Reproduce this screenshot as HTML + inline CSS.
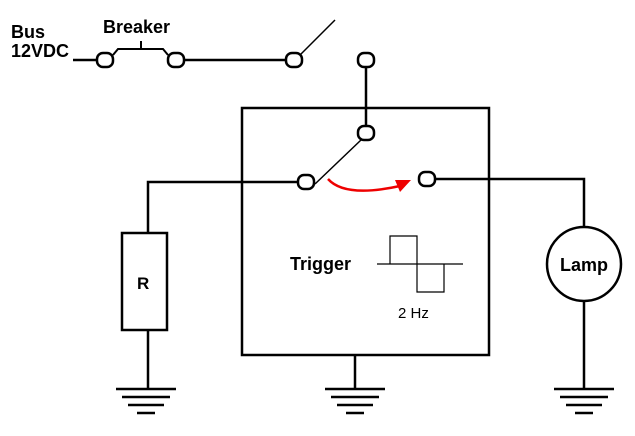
<!DOCTYPE html>
<html><head><style>body{margin:0;background:#fff}</style></head><body>
<svg width="635" height="431" xmlns="http://www.w3.org/2000/svg" font-family="Liberation Sans, sans-serif">
<g stroke="#000" stroke-width="2.5" fill="none">
<line x1="73" y1="60" x2="97" y2="60"/>
<line x1="184" y1="60" x2="286" y2="60"/>
<polyline points="113,55 118,49 163,49 168,55" stroke-width="2"/>
<line x1="141" y1="41" x2="141" y2="49" stroke-width="2"/>
<line x1="301" y1="54" x2="335" y2="20" stroke-width="1.5"/>
<line x1="366" y1="67" x2="366" y2="126"/>
<rect x="242" y="108" width="247" height="247"/>
<line x1="361" y1="140" x2="315" y2="184" stroke-width="1.5"/>
<polyline points="298,182 148,182 148,233"/>
<rect x="122" y="233" width="45" height="97"/>
<line x1="148" y1="330" x2="148" y2="389"/>
<polyline points="435,179 584,179 584,227"/>
<circle cx="584" cy="264" r="37"/>
<line x1="584" y1="301" x2="584" y2="389"/>
<line x1="355" y1="355" x2="355" y2="389"/>
</g>
<g fill="#fff" stroke="#000" stroke-width="2.5">
<rect x="97" y="53" width="16" height="14" rx="6"/>
<rect x="168" y="53" width="16" height="14" rx="6"/>
<rect x="286" y="53" width="16" height="14" rx="6"/>
<rect x="358" y="53" width="16" height="14" rx="6"/>
<rect x="358" y="126" width="16" height="14" rx="6"/>
<rect x="298" y="175" width="16" height="14" rx="6"/>
<rect x="419" y="172" width="16" height="14" rx="6"/>
</g>
<g stroke="#000" stroke-width="2.5">
<line x1="116" y1="389" x2="176" y2="389"/><line x1="122" y1="397" x2="170" y2="397"/><line x1="128" y1="405" x2="164" y2="405"/><line x1="137" y1="413" x2="155" y2="413"/>
<line x1="325" y1="389" x2="385" y2="389"/><line x1="331" y1="397" x2="379" y2="397"/><line x1="337" y1="405" x2="373" y2="405"/><line x1="346" y1="413" x2="364" y2="413"/>
<line x1="554" y1="389" x2="614" y2="389"/><line x1="560" y1="397" x2="608" y2="397"/><line x1="566" y1="405" x2="602" y2="405"/><line x1="575" y1="413" x2="593" y2="413"/>
</g>
<g stroke="#000" stroke-width="1.2" fill="none">
<line x1="377" y1="264" x2="463" y2="264"/>
<polyline points="390,264 390,236 417,236 417,292 444,292 444,264"/>
</g>
<path d="M328,179 Q345,198 400,186" stroke="#e00" stroke-width="2.5" fill="none"/>
<polygon points="411,180 395,180 400,192" fill="#e00"/>
<g font-weight="bold" font-size="18">
<text x="11" y="38">Bus</text>
<text x="11" y="57">12VDC</text>
<text x="103" y="33">Breaker</text>
<text x="290" y="270">Trigger</text>
<text x="137" y="289" font-size="17">R</text>
<text x="584" y="271" text-anchor="middle">Lamp</text>
</g>
<text x="398" y="318" font-size="15">2 Hz</text>
</svg>
</body></html>
